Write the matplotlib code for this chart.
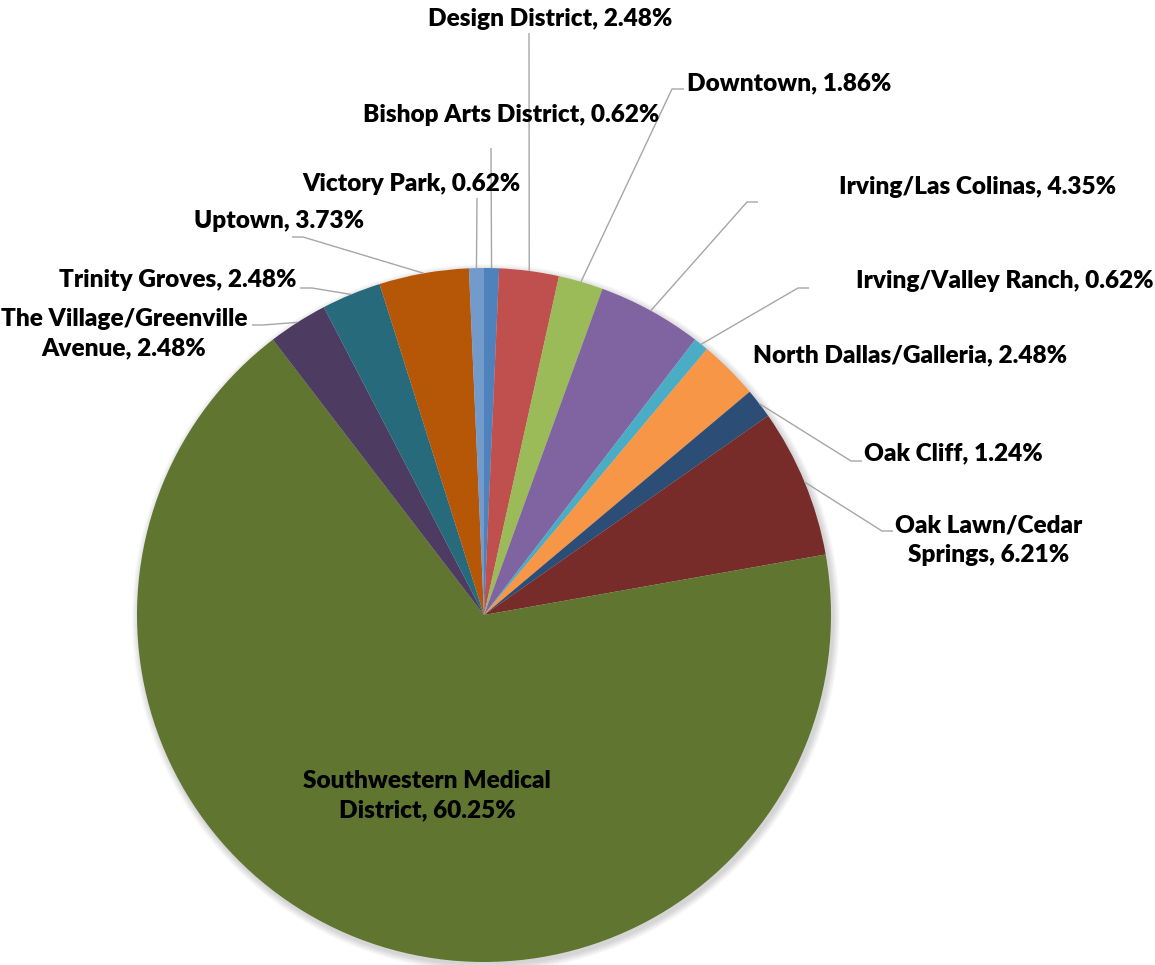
import matplotlib
matplotlib.use("Agg")
import matplotlib.pyplot as plt
from matplotlib.patches import Circle
import numpy as np

# ---------------- data ----------------
categories = [
    "Bishop Arts District", "Design District", "Downtown", "Irving/Las Colinas",
    "Irving/Valley Ranch", "North Dallas/Galleria", "Oak Cliff",
    "Oak Lawn/Cedar\nSprings", "Southwestern Medical\nDistrict",
    "The Village/Greenville\nAvenue", "Trinity Groves", "Uptown", "Victory Park",
]
percents = [0.62, 2.48, 1.86, 4.35, 0.62, 2.48, 1.24, 6.21, 60.25, 2.48, 2.48, 3.73, 0.62]
colors = ["#4F81BD", "#C0504D", "#9BBB59", "#8064A2", "#4BACC6", "#F79646",
          "#2C4D75", "#772C2A", "#5F7530", "#4D3B62", "#276A7C", "#B65708", "#729ACA"]

# ---------------- layout (pixel coordinates) ----------------
label_pos = [(511, 115), (550, 19), (789, 83), (978, 187), (1005, 281), (910, 355),
             (953, 453), (989, 540), (427, 796), (124, 334), (178, 280), (279, 221),
             (411, 184)]
# leader polylines after the anchor on the pie edge (None = no leader)
leaders = [
    [(491, 148)],
    [(529, 33)],
    [(672, 89), (684, 89)],
    [(747, 202), (758, 202)],
    [(798, 288), (809, 288)],
    None,
    [(851, 461), (862, 461)],
    [(882, 531), (893, 531)],
    None,
    [(263, 325), (252, 325)],
    [(312, 288), (300, 288)],
    [(303, 237), (292, 237)],
    [(477, 198)],
]

W, H = 1155, 965
cx, cy, R = 484, 615, 347

fig = plt.figure(figsize=(W / 100, H / 100), dpi=100)
ax = fig.add_axes([0, 0, 1, 1])

# soft shadow
for k in range(1, 8):
    ax.add_patch(Circle((cx + 2, cy + 3), R + k, color="black", alpha=0.025,
                        lw=0, zorder=0))

wedges, _ = ax.pie(percents, colors=colors, startangle=-90, counterclock=True,
                   center=(cx, cy), radius=R, wedgeprops=dict(linewidth=0),
                   normalize=True)
for w in wedges:
    w.set_zorder(2)

ax.set_xlim(0, W)
ax.set_ylim(H, 0)
ax.set_aspect("equal")
ax.axis("off")

font = dict(family=["Lato", "DejaVu Sans"], fontweight="heavy", fontsize=17.6,
            color="black")

for w, name, p, pos, ld in zip(wedges, categories, percents, label_pos, leaders):
    th = np.deg2rad((w.theta1 + w.theta2) / 2)
    ax_x = cx + R * np.cos(th)
    ax_y = cy + R * np.sin(th)
    if ld is not None:
        xs = [ax_x] + [q[0] for q in ld]
        ys = [ax_y] + [q[1] for q in ld]
        ax.plot(xs, ys, color="#A6A6A6", lw=1.0, zorder=3, solid_capstyle="butt")
    ax.text(pos[0], pos[1], f"{name}, {p:.2f}%", ha="center", va="center",
            linespacing=1.4, zorder=4, **font)

fig.savefig("out.png", dpi=100)
